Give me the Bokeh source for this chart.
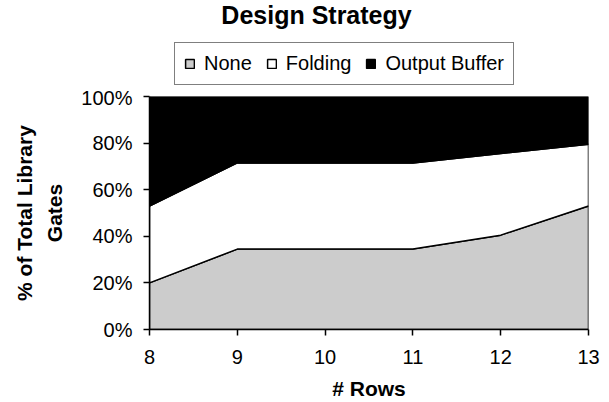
import numpy as np
from bokeh.plotting import figure
from bokeh.layouts import column
from bokeh.models import Legend, LegendItem, FixedTicker, PrintfTickFormatter, Range1d, Label
from bokeh.embed import file_html
from bokeh.resources import INLINE

# ---- data ----
rows = [8, 9, 10, 11, 12, 13]
none = [20, 34.5, 34.5, 34.5, 40.5, 53]
folding = [33, 37, 37, 37, 35, 26.5]
output_buffer = [47, 28.5, 28.5, 28.5, 24.5, 20.5]
series_names = ["None", "Folding", "Output Buffer"]
series_colors = ["#cccccc", "#ffffff", "#000000"]
y_ticks = [0, 20, 40, 60, 80, 100]
x_ticks = [8, 9, 10, 11, 12, 13]
title_text = "Design Strategy"

FONT = "Liberation Sans"
HEADER_H = 86
FRAME_LEFT = 148


def draw_stack(fig, visible=True):
    x = np.array(rows, dtype=float)
    stack = [np.array(none), np.array(folding), np.array(output_buffer)]
    bottom = np.zeros_like(x)
    rs = []
    for vals, col in zip(stack, series_colors):
        top = bottom + vals
        xs = list(x) + list(x[::-1])
        ys = list(top) + list(bottom[::-1])
        r = fig.patch(xs, ys, fill_color=col, line_color="black", line_width=1.5)
        r.visible = visible
        rs.append(r)
        bottom = top
    return rs


# ---- main chart ----
p = figure(width=609, height=402 - HEADER_H, output_backend="svg", toolbar_location=None,
           x_range=Range1d(8, 13), y_range=Range1d(0, 100),
           min_border_left=149, min_border_right=21, min_border_top=10,
           min_border_bottom=71)
p.outline_line_color = None
p.grid.visible = False
p.background_fill_color = "white"
p.border_fill_color = "white"
draw_stack(p)

for ax in (p.xaxis[0], p.yaxis[0]):
    ax.axis_line_color = "black"
    ax.axis_line_width = 1.5
    ax.major_tick_line_color = "black"
    ax.major_tick_line_width = 1.5
    ax.major_tick_in = 0
    ax.major_tick_out = 6
    ax.minor_tick_line_color = None
    ax.major_label_text_font = FONT
    ax.major_label_text_font_size = "20px"
    ax.major_label_text_color = "black"
    ax.axis_label_text_font = FONT
    ax.axis_label_text_font_size = "21px"
    ax.axis_label_text_font_style = "bold"
    ax.axis_label_text_color = "black"

p.yaxis[0].ticker = FixedTicker(ticks=y_ticks)
p.yaxis[0].formatter = PrintfTickFormatter(format="%d%%")
p.yaxis[0].major_label_standoff = 11
p.yaxis[0].axis_label = "% of Total Library\nGates"
p.yaxis[0].axis_label_standoff = 12
p.yaxis[0].axis_label_text_line_height = 1.3

p.xaxis[0].ticker = FixedTicker(ticks=x_ticks)
p.xaxis[0].major_label_standoff = 14
p.xaxis[0].axis_label = "# Rows"
p.xaxis[0].axis_label_standoff = 10

# ---- header: title + legend ----
h = figure(width=609, height=HEADER_H, output_backend="svg", toolbar_location=None,
           x_range=Range1d(8, 13), y_range=Range1d(0, 100),
           x_axis_type=None, y_axis_type=None,
           min_border_left=0, min_border_right=0, min_border_top=0, min_border_bottom=0)
h.outline_line_color = None
h.grid.visible = False
h.background_fill_color = "white"
h.border_fill_color = "white"
legend_renderers = draw_stack(h, visible=False)

h.add_layout(Label(x=315 - FRAME_LEFT, y=72, x_units="screen", y_units="screen",
                   text=title_text, text_font=FONT, text_font_size="25px",
                   text_font_style="bold", text_color="black",
                   text_align="center", text_baseline="alphabetic"))

legend = Legend(items=[LegendItem(label=n, renderers=[r]) for n, r in zip(series_names, legend_renderers)],
                orientation="horizontal", location=(173 - FRAME_LEFT, 1), margin=0,
                label_text_font=FONT, label_text_font_size="20px", label_text_color="black",
                glyph_width=11, glyph_height=11, label_standoff=9, spacing=14,
                padding=9, border_line_color="black", border_line_width=1.5,
                background_fill_color="white", background_fill_alpha=1,
                label_height=23)
h.add_layout(legend, "center")

layout = column(h, p, spacing=0)
open("out.html", "w").write(file_html(layout, INLINE))
